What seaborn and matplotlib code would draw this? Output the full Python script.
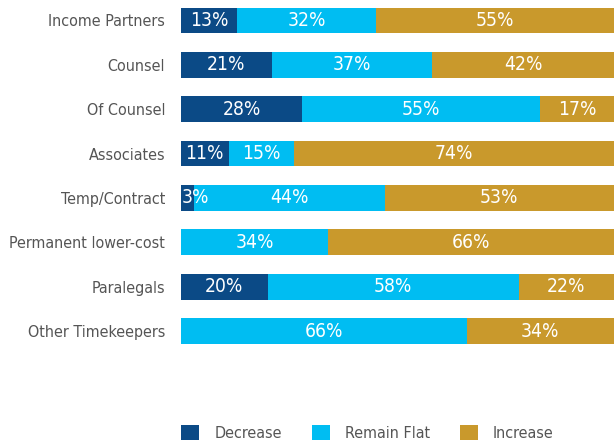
import numpy as np
import pandas as pd
import matplotlib
matplotlib.use("Agg")
import matplotlib.pyplot as plt
import seaborn as sns
from matplotlib import font_manager
from matplotlib.patches import Patch

categories = ['Income Partners', 'Counsel', 'Of Counsel', 'Associates',
              'Temp/Contract', 'Permanent lower-cost', 'Paralegals', 'Other Timekeepers']
decrease = [13, 21, 28, 11, 3, 0, 20, 0]
remain_flat = [32, 37, 55, 15, 44, 34, 58, 66]
increase = [55, 42, 17, 74, 53, 66, 22, 34]

series_names = ['Decrease', 'Remain Flat', 'Increase']
colors = ['#0B4A86', '#00BDF2', '#C9992C']

sns.set_theme(style="white")

# look for a condensed face, else fall back to a plain sans
family, stretch = 'Roboto', 'normal'
for f in font_manager.fontManager.ttflist:
    nm = f.name.lower()
    if 'condensed' in nm or 'narrow' in nm:
        family, stretch = f.name, 'normal'
        break
    if str(f.stretch) in ('condensed', 'semi-condensed', 'extra-condensed') and f.style == 'normal':
        family, stretch = f.name, str(f.stretch)
        break
plt.rcParams['font.family'] = [family, 'DejaVu Sans']
plt.rcParams['font.stretch'] = stretch

df = pd.DataFrame({'category': categories, 'Decrease': decrease,
                   'Remain Flat': remain_flat, 'Increase': increase})
df['c1'] = df['Decrease']
df['c2'] = df['Decrease'] + df['Remain Flat']
df['c3'] = df['c2'] + df['Increase']

fig = plt.figure(figsize=(6.14, 4.42), dpi=100)

# fit the font size so the longest label is about as wide as in the reference
renderer = fig.canvas.get_renderer()
probe = fig.text(0, 0, 'Permanent lower-cost', fontsize=10)
w = probe.get_window_extent(renderer).width
probe.remove()
fs = min(14, 10 * 157 / w)

ax = fig.add_axes([0.2948, 0.2009, 0.7052, 0.798])

# draw from the back: full stack, then first two, then first
for col, c in zip(['c3', 'c2', 'c1'], colors[::-1]):
    sns.barplot(data=df, x=col, y='category', order=categories, color=c,
                width=0.58, saturation=1, ax=ax, orient='h', linewidth=0)

for i in range(len(categories)):
    starts = [0, decrease[i], decrease[i] + remain_flat[i]]
    vals = [decrease[i], remain_flat[i], increase[i]]
    for s, v in zip(starts, vals):
        if v <= 0:
            continue
        if v < 6:
            ax.text(s + 0.2, i, f'{v}%', ha='left', va='center',
                    color='white', fontsize=fs * 1.2)
        else:
            ax.text(s + v / 2, i, f'{v}%', ha='center', va='center',
                    color='white', fontsize=fs * 1.2)

ax.set_xlim(0, 100)
ax.set_ylim(7.5, -0.45)
ax.set_xlabel('')
ax.set_ylabel('')
ax.set_xticks([])
ax.tick_params(axis='y', length=0, pad=11.5, labelsize=fs, labelcolor='#555555')
for sp in ax.spines.values():
    sp.set_visible(False)

em = fs * 100 / 72
handles = [Patch(facecolor=c, edgecolor='none') for c in colors]
fig.legend(handles, series_names, loc='lower left', bbox_to_anchor=(178 / 614, -0.005),
           ncol=3, frameon=False, fontsize=fs, labelcolor='#555555',
           handlelength=18 / em, handleheight=18 / em, columnspacing=30 / em,
           handletextpad=15 / em, borderaxespad=0, borderpad=0.2)

fig.savefig('out.png', dpi=100)
